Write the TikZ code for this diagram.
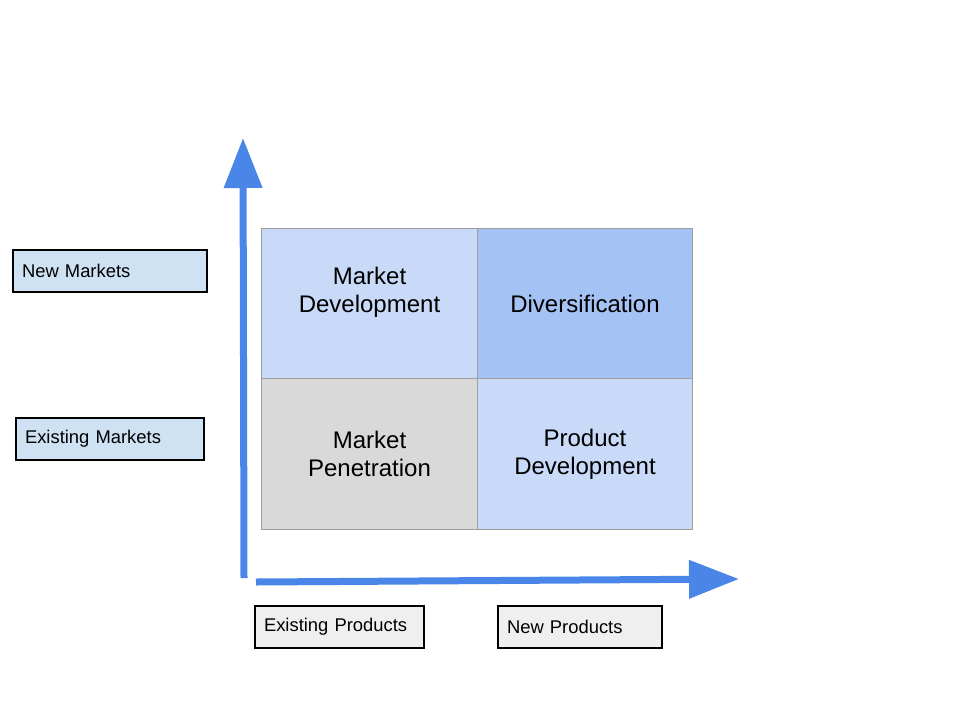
\documentclass[tikz,border=0pt]{standalone}
\usepackage{fontspec}
\setmainfont{Liberation Sans}
\usetikzlibrary{arrows.meta}
\definecolor{cellA}{HTML}{C9DAF8}
\definecolor{cellB}{HTML}{A4C2F4}
\definecolor{cellC}{HTML}{D9D9D9}
\definecolor{gridline}{HTML}{9E9E9E}
\definecolor{lblblue}{HTML}{CFE2F3}
\definecolor{lblgray}{HTML}{EFEFEF}
\definecolor{axisblue}{HTML}{4A86E8}
\tikzset{
  cell/.style={draw=gridline, line width=1pt, minimum width=215.5pt, minimum height=150.5pt,
    inner sep=0pt, align=center, font=\fontsize{24}{28}\selectfont},
  lbl/.style={draw=black, line width=1.5pt, minimum height=42pt, inner xsep=9pt, inner ysep=0pt,
    align=left, font=\fontsize{18.4}{21}\selectfont},
  axis/.style={draw=axisblue, line width=7pt, -{Triangle[width=37pt,length=50pt]}}
}
\begin{document}
\begin{tikzpicture}[x=1pt,y=-1pt]
\useasboundingbox (0,0) rectangle (960,720);
% cells
\node[cell, fill=cellA] (md) at (369.5,303.5) {Market\\Development\\\mbox{}};
\node[cell, fill=cellB] (dv) at (585,303.5) {Diversification};
\node[cell, fill=cellC] (mp) at (369.5,454) {Market\\Penetration};
\node[cell, fill=cellA] (pd) at (585,454) {Product\\Development};
% axes
\coordinate (vstart) at (244,578);
\coordinate (vtip) at (243,138);
\coordinate (hstart) at (256,582);
\coordinate (htip) at (739,579);
\draw[axis] (vstart) -- (vtip);
\draw[axis] (hstart) -- (htip);
% labels
\node[lbl, fill=lblblue, text width=176pt] (nm) at (110,271) {New Markets};
\node[lbl, fill=lblblue, text width=170pt] (em) at (110,439) {Existing Markets};
\node[lbl, fill=lblgray, text width=151pt] (ep) at (339.5,627) {Existing Products};
\node[lbl, fill=lblgray, text width=146pt] (np) at (580,627) {New Products};
\end{tikzpicture}
\end{document}
